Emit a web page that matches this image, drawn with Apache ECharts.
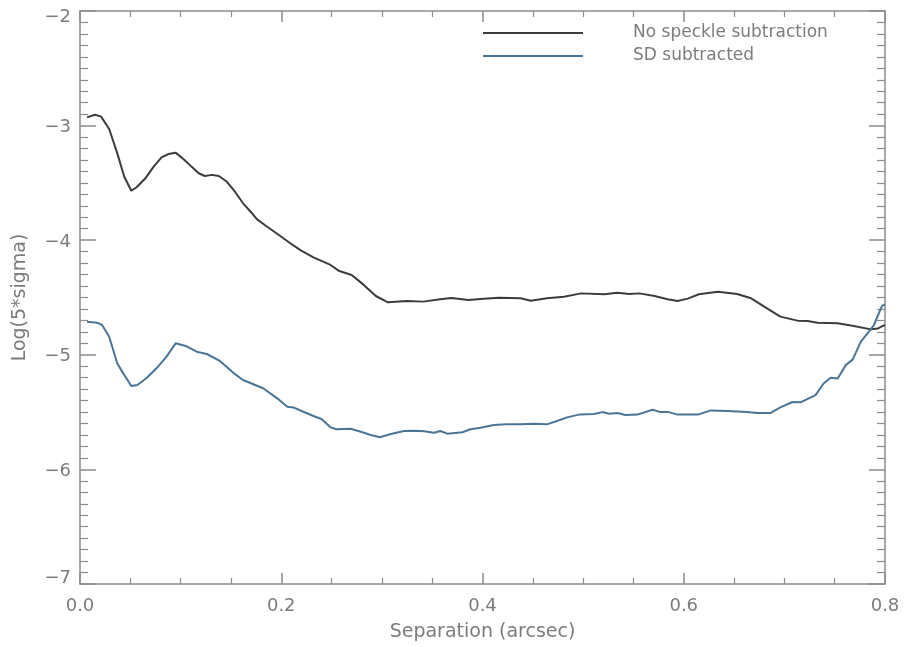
<!DOCTYPE html>
<html>
<head>
<meta charset="utf-8">
<script src="https://cdn.jsdelivr.net/npm/echarts@6/dist/echarts.min.js"></script>
<style>
    html, body { margin: 0; padding: 0; background: #fff; }
    #chart { width: 904px; height: 647px; }
</style>
</head>
<body>
<div id="chart"></div>
<script>
// separation (arcsec) and log(5*sigma)
var sepNoSub = [0.007, 0.015, 0.021, 0.029, 0.037, 0.044, 0.051, 0.056, 0.065, 0.073, 0.081, 0.088, 0.095,
    0.103, 0.111, 0.118, 0.124, 0.131, 0.138, 0.146, 0.154, 0.162, 0.171, 0.176, 0.184, 0.199, 0.209,
    0.219, 0.232, 0.249, 0.257, 0.270, 0.282, 0.294, 0.306, 0.325, 0.341, 0.358, 0.369, 0.386, 0.398,
    0.416, 0.438, 0.448, 0.464, 0.481, 0.498, 0.521, 0.534, 0.546, 0.556, 0.571, 0.584, 0.594, 0.604,
    0.615, 0.634, 0.653, 0.667, 0.680, 0.696, 0.713, 0.723, 0.733, 0.753, 0.769, 0.786, 0.793, 0.800];
var logNoSub = [-2.928, -2.905, -2.922, -3.030, -3.240, -3.446, -3.568, -3.540, -3.460, -3.360, -3.277, -3.248, -3.236,
    -3.294, -3.360, -3.416, -3.440, -3.430, -3.440, -3.490, -3.577, -3.678, -3.765, -3.818, -3.870, -3.963, -4.027,
    -4.086, -4.150, -4.216, -4.266, -4.304, -4.390, -4.487, -4.542, -4.530, -4.536, -4.516, -4.504, -4.522, -4.513,
    -4.502, -4.507, -4.528, -4.507, -4.493, -4.464, -4.472, -4.458, -4.469, -4.464, -4.487, -4.516, -4.531, -4.510,
    -4.472, -4.449, -4.469, -4.507, -4.580, -4.667, -4.702, -4.705, -4.720, -4.725, -4.749, -4.778, -4.770, -4.738];

var sepSD = [0.007, 0.017, 0.022, 0.029, 0.037, 0.043, 0.051, 0.057, 0.066, 0.076, 0.086, 0.095, 0.105,
    0.116, 0.126, 0.139, 0.153, 0.162, 0.182, 0.196, 0.206, 0.212, 0.222, 0.232, 0.240, 0.249, 0.255,
    0.269, 0.279, 0.289, 0.298, 0.308, 0.322, 0.332, 0.342, 0.352, 0.358, 0.365, 0.380, 0.388, 0.398,
    0.411, 0.424, 0.438, 0.451, 0.464, 0.474, 0.484, 0.497, 0.511, 0.519, 0.526, 0.534, 0.542, 0.554,
    0.569, 0.577, 0.585, 0.594, 0.614, 0.627, 0.643, 0.663, 0.673, 0.686, 0.696, 0.708, 0.716, 0.731,
    0.739, 0.746, 0.753, 0.761, 0.768, 0.776, 0.784, 0.789, 0.797, 0.800];
var logSD = [-4.711, -4.720, -4.740, -4.842, -5.074, -5.162, -5.272, -5.263, -5.205, -5.118, -5.016, -4.900, -4.923,
    -4.973, -4.993, -5.054, -5.162, -5.220, -5.292, -5.380, -5.453, -5.459, -5.497, -5.534, -5.560, -5.633, -5.650,
    -5.645, -5.671, -5.700, -5.720, -5.694, -5.665, -5.662, -5.668, -5.680, -5.665, -5.688, -5.676, -5.650, -5.636,
    -5.613, -5.607, -5.607, -5.601, -5.607, -5.578, -5.546, -5.520, -5.517, -5.500, -5.514, -5.508, -5.525, -5.522,
    -5.480, -5.500, -5.500, -5.522, -5.522, -5.485, -5.490, -5.500, -5.508, -5.508, -5.459, -5.412, -5.415, -5.352,
    -5.250, -5.200, -5.206, -5.090, -5.040, -4.885, -4.798, -4.740, -4.574, -4.560];

var seriesNames = ['No speckle subtraction', 'SD subtracted'];
var lineColors = ['#3c3c3c', '#4b7596'];

function pairs(xs, ys) {
    var out = [];
    for (var i = 0, l = xs.length; i < l; i++) {
        out[i] = [xs[i], ys[i]];
    }
    return out;
}

var axisGray = '#8c8c8c';
var textGray = '#7c7c7c';
var fontName = 'DejaVu Sans';

function xAxisOf(pos, showLabels) {
    return {
        type: 'value',
        position: pos,
        min: 0,
        max: 0.8,
        interval: 0.2,
        name: showLabels ? 'Separation (arcsec)' : '',
        nameLocation: 'middle',
        nameGap: 39,
        nameTextStyle: { color: textGray, fontSize: 19, fontFamily: fontName },
        axisLine: { show: true, onZero: false, lineStyle: { color: axisGray, width: 1.5 } },
        axisTick: { show: true, inside: true, length: 11, lineStyle: { color: axisGray, width: 1.5 } },
        minorTick: { show: true, splitNumber: 4, length: 6, lineStyle: { color: axisGray, width: 1.2 } },
        splitLine: { show: false },
        axisLabel: {
            show: showLabels,
            margin: 13,
            color: textGray,
            fontSize: 18,
            fontFamily: fontName,
            formatter: function (v) { return v.toFixed(1); }
        }
    };
}

function yAxisOf(pos, showLabels) {
    var lab = { color: textGray, fontSize: 18, fontFamily: fontName };
    return {
        type: 'value',
        position: pos,
        min: -7,
        max: -2,
        interval: 1,
        name: showLabels ? 'Log(5*sigma)' : '',
        nameLocation: 'middle',
        nameGap: 50,
        nameTextStyle: { color: textGray, fontSize: 19, fontFamily: fontName },
        axisLine: { show: true, onZero: false, lineStyle: { color: axisGray, width: 1.5 } },
        axisTick: { show: true, inside: true, length: 16, lineStyle: { color: axisGray, width: 1.5 } },
        minorTick: { show: true, splitNumber: 10, length: 8, lineStyle: { color: axisGray, width: 1.2 } },
        splitLine: { show: false },
        axisLabel: {
            show: showLabels,
            margin: 9,
            color: textGray,
            fontSize: 18,
            fontFamily: fontName,
            formatter: function (v) {
                var s = String(v).replace('-', '\u2212');
                if (v === -2) return '{t|' + s + '}';
                if (v === -7) return '{b|' + s + '}';
                return '{m|' + s + '}';
            },
            rich: {
                t: Object.assign({ padding: [12, 0, 0, 0] }, lab),
                b: Object.assign({ padding: [0, 0, 12, 0] }, lab),
                m: Object.assign({ padding: [4, 0, 0, 0] }, lab)
            }
        }
    };
}

var myChart = echarts.init(document.getElementById('chart'));

var option = {
    backgroundColor: '#ffffff',
    animation: false,
    grid: { left: 80, right: 19, top: 11, bottom: 63 },
    legend: {
        orient: 'vertical',
        left: 483,
        top: 13,
        padding: 0,
        itemWidth: 100,
        itemHeight: 2,
        itemGap: -17,
        icon: 'rect',
        data: seriesNames,
        textStyle: {
            color: textGray,
            fontSize: 17,
            fontFamily: fontName,
            lineHeight: 20,
            padding: [0, 0, 20, 45]
        }
    },
    xAxis: [xAxisOf('bottom', true), xAxisOf('top', false)],
    yAxis: [yAxisOf('left', true), yAxisOf('right', false)],
    series: [
        {
            name: seriesNames[0],
            type: 'line',
            showSymbol: false,
            data: pairs(sepNoSub, logNoSub),
            lineStyle: { color: lineColors[0], width: 2 },
            itemStyle: { color: lineColors[0] }
        },
        {
            name: seriesNames[1],
            type: 'line',
            showSymbol: false,
            data: pairs(sepSD, logSD),
            lineStyle: { color: lineColors[1], width: 2 },
            itemStyle: { color: lineColors[1] }
        }
    ]
};

myChart.setOption(option);
</script>
</body>
</html>
